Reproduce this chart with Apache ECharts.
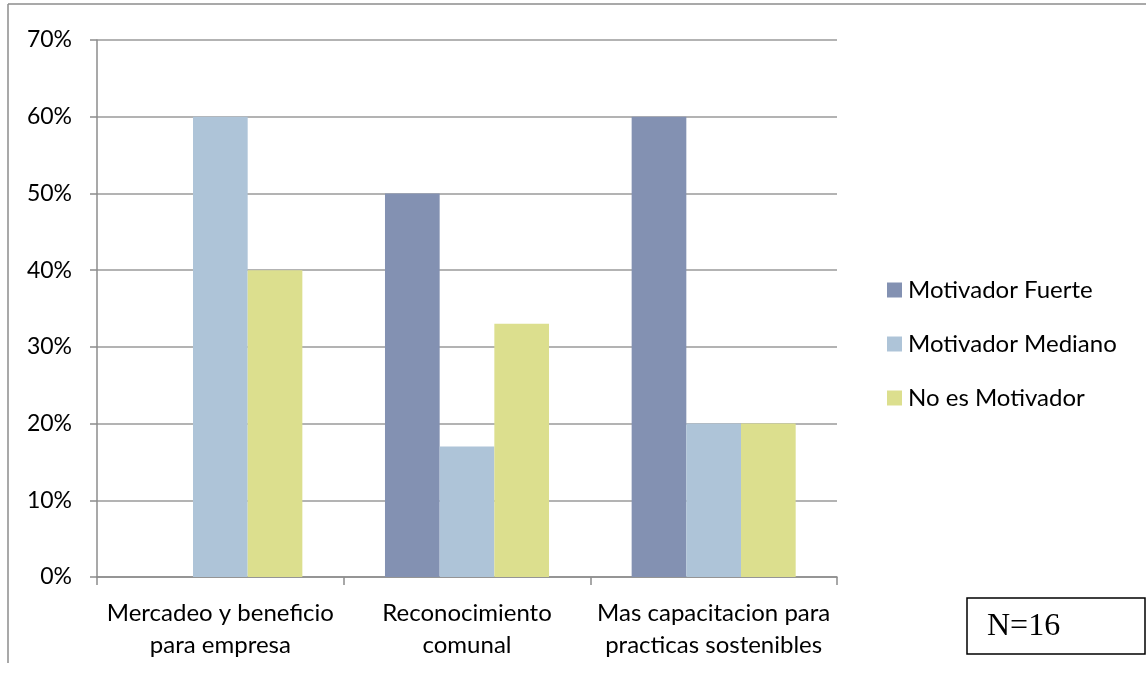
<!DOCTYPE html>
<html>
<head>
<meta charset="utf-8">
<script src="https://cdn.jsdelivr.net/npm/echarts@6/dist/echarts.min.js"></script>
<style>
  html, body { margin: 0; padding: 0; background: #fff; }
  #chart { width: 1146px; height: 673px; }
</style>
</head>
<body>
<div id="chart"></div>
<script>
// Motivadores por categoría (porcentaje de respuestas)
const categories = [
  'Mercadeo y beneficio\npara empresa',
  'Reconocimiento\ncomunal',
  'Mas capacitacion para\npracticas sostenibles'
];
const seriesNames = ['Motivador Fuerte', 'Motivador Mediano', 'No es Motivador'];
const motivadorFuerte = [0, 50, 60];
const motivadorMediano = [60, 17, 20];
const noEsMotivador = [40, 33, 20];
const yTicks = [0, 10, 20, 30, 40, 50, 60, 70];
const sampleNote = 'N=16';

const colors = ['#8391b2', '#aec4d8', '#dcdf8e'];
const font = 'Lato, "Open Sans", sans-serif';

const chart = echarts.init(document.getElementById('chart'), null, { renderer: 'canvas' });

const values = [motivadorFuerte, motivadorMediano, noEsMotivador];

chart.setOption({
  animation: false,
  color: colors,
  grid: { left: 97, right: 309, top: 40, bottom: 96, containLabel: false },
  legend: {
    orient: 'vertical',
    left: 887,
    top: 278,
    padding: 0,
    itemWidth: 15,
    itemHeight: 15,
    itemGap: 30,
    icon: 'rect',
    textStyle: { fontFamily: font, fontSize: 24, color: '#000', lineHeight: 24, padding: [0, 0, 0, 1] },
    data: seriesNames
  },
  xAxis: {
    type: 'category',
    data: categories,
    axisLine: { lineStyle: { color: '#8c8c8c', width: 1.5 } },
    axisTick: { show: true, length: 8, alignWithLabel: false, lineStyle: { color: '#8c8c8c', width: 1.5 } },
    axisLabel: { interval: 0, fontFamily: font, fontSize: 24, color: '#000', margin: 20, lineHeight: 32 }
  },
  yAxis: {
    type: 'value',
    min: 0,
    max: 70,
    interval: 10,
    axisLine: { show: true, lineStyle: { color: '#8c8c8c', width: 1.5 } },
    axisTick: { show: true, length: 7, inside: false, lineStyle: { color: '#8c8c8c', width: 1.5 } },
    axisLabel: {
      fontFamily: font, fontSize: 23, color: '#000', margin: 25,
      formatter: v => (yTicks.includes(v) ? v + '%' : '')
    },
    splitLine: { lineStyle: { color: '#9a9a9a', width: 1.5 } }
  },
  series: seriesNames.map((name, i) => ({
    name,
    type: 'bar',
    data: values[i],
    barGap: '0%',
    barCategoryGap: '33.5%',
    itemStyle: { color: colors[i] }
  })),
  graphic: [
    // outer frame of the figure (top and left edges)
    { type: 'line', shape: { x1: 8, y1: 4, x2: 1146, y2: 4 }, style: { stroke: '#8c8c8c', lineWidth: 1.5 } },
    { type: 'line', shape: { x1: 8, y1: 4, x2: 8, y2: 663 }, style: { stroke: '#8c8c8c', lineWidth: 1.5 } },
    // sample size box
    {
      type: 'rect',
      shape: { x: 967, y: 598, width: 178, height: 56 },
      style: { fill: '#fff', stroke: '#000', lineWidth: 1.5 }
    },
    {
      type: 'text',
      x: 987,
      y: 627,
      style: {
        text: sampleNote,
        font: '32px "Liberation Serif", "DejaVu Serif", serif',
        fill: '#000',
        verticalAlign: 'middle'
      }
    }
  ]
});
</script>
</body>
</html>
